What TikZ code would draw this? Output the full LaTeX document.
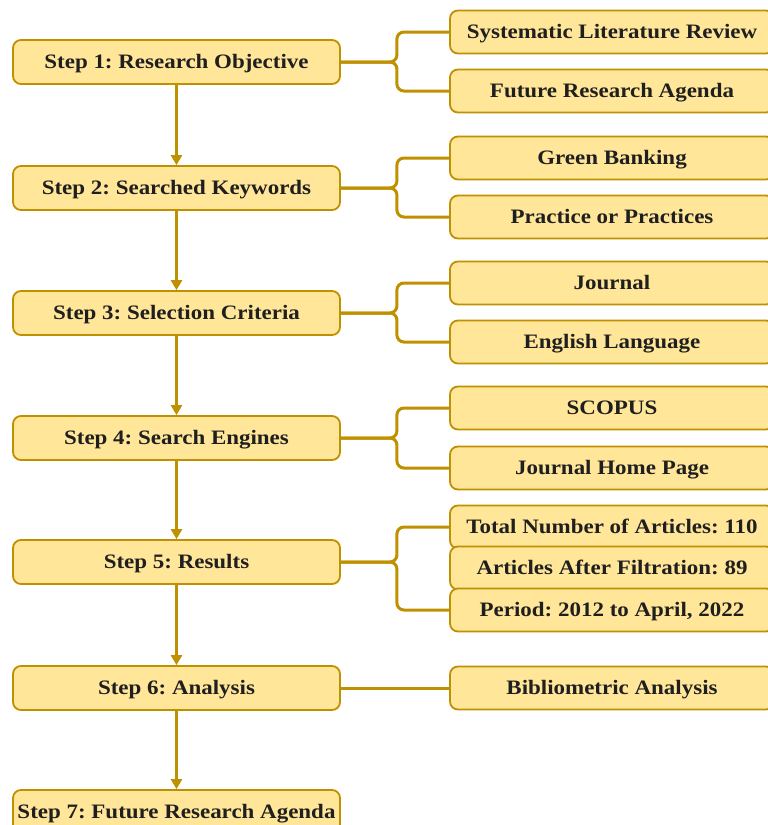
\documentclass[tikz,border=0pt]{standalone}
\usepackage{fontspec}
\setmainfont{Liberation Serif}[FakeStretch=1.12]
\usepackage{tikz}
\usetikzlibrary{arrows.meta,positioning,calc}
\definecolor{boxfill}{HTML}{FFE699}
\definecolor{boxline}{HTML}{BF9000}
\frenchspacing

\begin{document}
\begin{tikzpicture}[x=1pt,y=-1pt,>={Triangle[length=10pt,width=11pt]},
  stepbox/.style={rectangle,rounded corners=8pt,draw=boxline,fill=boxfill,line width=1.8pt,
    minimum width=327pt,minimum height=44pt,inner sep=2pt,text height=13.5pt,text depth=0pt,
    font=\fontsize{20.5}{24}\selectfont\bfseries,text=black!88},
  itembox/.style={stepbox,minimum width=324pt,minimum height=43pt},
  link/.style={draw=boxline,line width=3pt,rounded corners=7pt}]
  \useasboundingbox (0,0) rectangle (768,825);
  % steps
  \node[stepbox] (s1) at (176.5,62) {Step 1: Research Objective};
  \node[stepbox] (s2) at (176.5,188) {Step 2: Searched Keywords};
  \node[stepbox] (s3) at (176.5,313) {Step 3: Selection Criteria};
  \node[stepbox] (s4) at (176.5,438) {Step 4: Search Engines};
  \node[stepbox] (s5) at (176.5,562) {Step 5: Results};
  \node[stepbox] (s6) at (176.5,688) {Step 6: Analysis};
  \node[stepbox] (s7) at (176.5,812) {Step 7: Future Research Agenda};
  % details
  \node[itembox] (r11) at (612,32) {Systematic Literature Review};
  \node[itembox] (r12) at (612,91) {Future Research Agenda};
  \node[itembox] (r21) at (612,158) {Green Banking};
  \node[itembox] (r22) at (612,217) {Practice or Practices};
  \node[itembox] (r31) at (612,283) {Journal};
  \node[itembox] (r32) at (612,342) {English Language};
  \node[itembox] (r41) at (612,408) {SCOPUS};
  \node[itembox] (r42) at (612,468) {Journal Home Page};
  \node[itembox] (r51) at (612,527) {Total Number of Articles: 110};
  \node[itembox] (r52) at (612,568) {Articles After Filtration: 89};
  \node[itembox] (r53) at (612,610) {Period: 2012 to April, 2022};
  \node[itembox] (r61) at (612,688) {Bibliometric Analysis};
  % flow
  \foreach \a/\b in {s1/s2,s2/s3,s3/s4,s4/s5,s5/s6,s6/s7}
    \draw[link,->] (\a.south) -- (\b.north);
  % brackets
  \foreach \s/\t/\u in {s1/r11/r12,s2/r21/r22,s3/r31/r32,s4/r41/r42,s5/r51/r53} {
    \coordinate[right=56pt of \s.east] (j\s);
    \draw[link] (\s.east) -- (j\s) |- (\t.west);
    \draw[link] (\s.east) -- (j\s) |- (\u.west);
  }
  \draw[link] (s6.east) -- (r61.west);
\end{tikzpicture}
\end{document}
